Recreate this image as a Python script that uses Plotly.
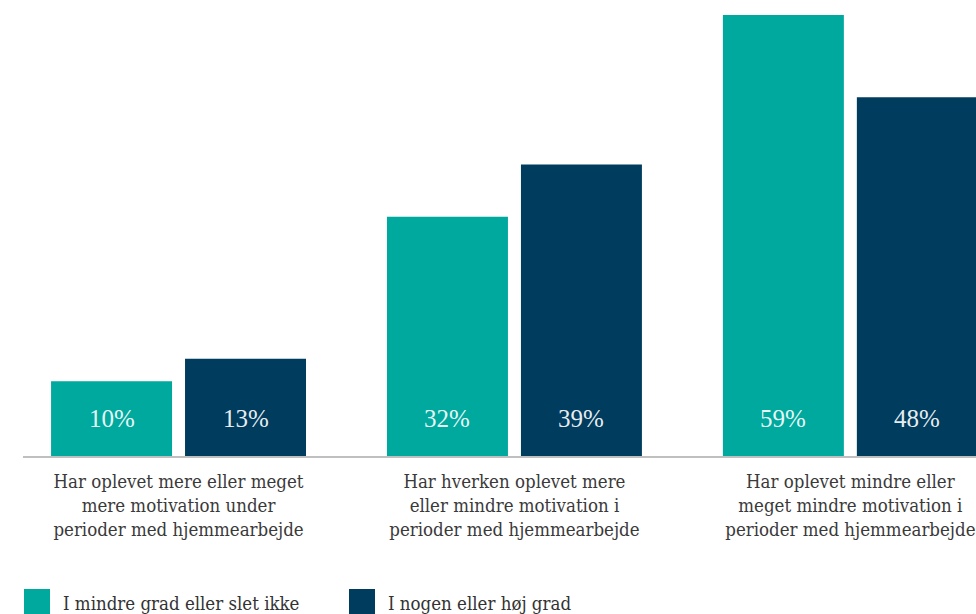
import plotly.graph_objects as go

categories = [
    "Har oplevet mere eller meget<br>mere motivation under<br>perioder med hjemmearbejde",
    "Har hverken oplevet mere<br>eller mindre motivation i<br>perioder med hjemmearbejde",
    "Har oplevet mindre eller<br>meget mindre motivation i<br>perioder med hjemmearbejde",
]
series_names = ["I mindre grad eller slet ikke", "I nogen eller høj grad"]
values_low = [10, 32, 59]
values_high = [13, 39, 48]
colors = ["#00A99E", "#003C5E"]

W, H = 976, 614
ML, MR, MT, MB = 23, 0, 15, 158
serif = "DejaVu Serif Condensed, Liberation Serif, serif"

fig = go.Figure()
for name, vals, col in zip(series_names, [values_low, values_high], colors):
    fig.add_trace(go.Bar(x=list(range(len(categories))), y=vals, name=name,
                         marker=dict(color=col, line=dict(width=0)),
                         showlegend=False, hoverinfo="skip"))

bargap = 0.2024
bargroupgap = 0.097
slot = (1 - bargap) / 2
for j, vals in enumerate([values_low, values_high]):
    off = (j - 0.5) * slot
    for i, v in enumerate(vals):
        fig.add_annotation(x=i + off, y=5, text=f"{v}%", showarrow=False,
                           font=dict(family="Liberation Serif, serif", size=25,
                                     color="rgba(255,255,255,0.92)"),
                           xref="x", yref="y")

# legend (manual, large square keys)
plot_w = W - ML - MR
plot_h = H - MT - MB
def px_x(p):
    return (p - ML) / plot_w
def px_y(p):
    return (H - MB - p) / plot_h

leg_x = [24, 349]
for k, (name, col) in enumerate(zip(series_names, colors)):
    x0 = leg_x[k]
    fig.add_shape(type="rect", xref="paper", yref="paper",
                  x0=px_x(x0), x1=px_x(x0 + 26), y0=px_y(589), y1=px_y(616),
                  fillcolor=col, line=dict(width=0))
    fig.add_annotation(xref="paper", yref="paper", x=px_x(x0 + 37), y=px_y(603),
                       xanchor="left", yanchor="middle", text=name, showarrow=False,
                       font=dict(family=serif, size=18.5, color="#333333"))

fig.update_layout(
    width=W, height=H,
    margin=dict(l=ML, r=MR, t=MT, b=MB, pad=0),
    paper_bgcolor="white", plot_bgcolor="white",
    barmode="group", bargap=bargap, bargroupgap=bargroupgap,
    xaxis=dict(range=[-0.463, 2.374], tickmode="array",
               tickvals=list(range(len(categories))), ticktext=categories,
               showline=True, linecolor="#BFBFBF", linewidth=2,
               showgrid=False, zeroline=False, ticks="",
               tickfont=dict(family=serif, size=18.5, color="#3A3A3A"),
               ticklabelstandoff=8),
    yaxis=dict(range=[0, 59], visible=False, showgrid=False, zeroline=False),
)

fig.write_html("out.html")
